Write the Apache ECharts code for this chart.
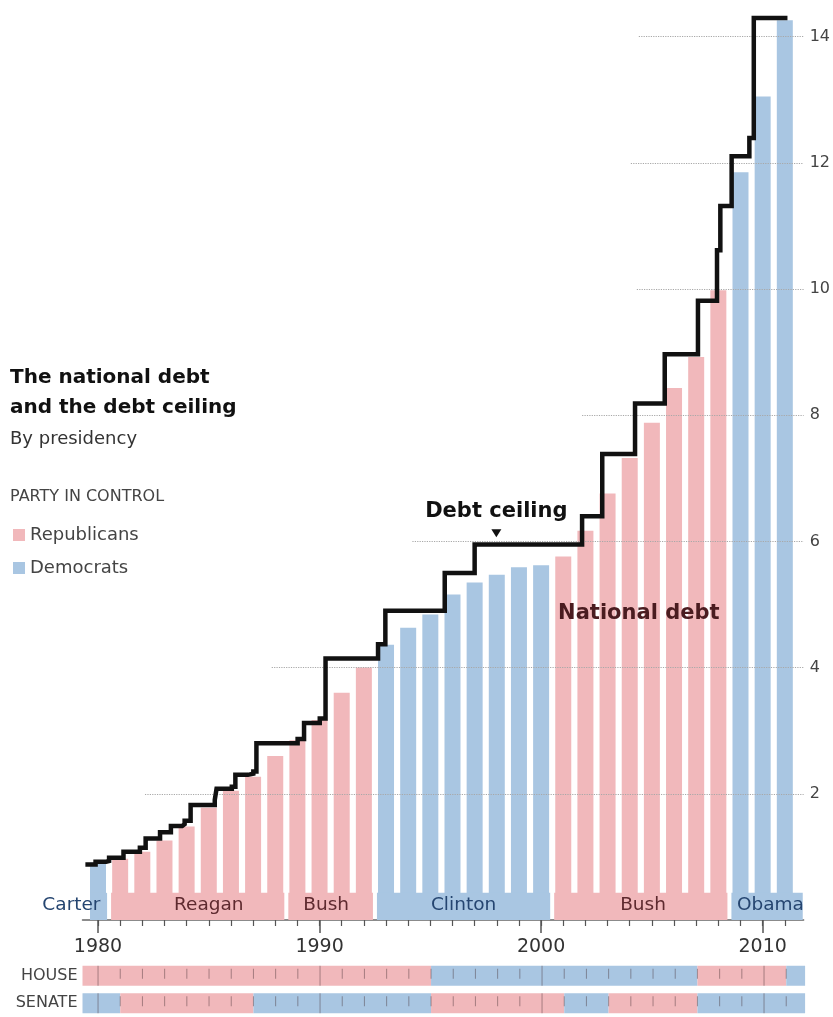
<!DOCTYPE html>
<html>
<head>
<meta charset="utf-8">
<title>The national debt and the debt ceiling</title>
<script src="https://cdn.jsdelivr.net/npm/echarts@6/dist/echarts.min.js"></script>
<style>
  html, body { margin: 0; padding: 0; background: #fff; }
  #chart { width: 833px; height: 1017px; }
</style>
</head>
<body>
<div id="chart"></div>
<script>
// ---- Data ----------------------------------------------------------------
// National debt by year, trillions of dollars
const years = [1980, 1981, 1982, 1983, 1984, 1985, 1986, 1987, 1988, 1989,
               1990, 1991, 1992, 1993, 1994, 1995, 1996, 1997, 1998, 1999,
               2000, 2001, 2002, 2003, 2004, 2005, 2006, 2007, 2008, 2009,
               2010, 2011];
const debt = [0.91, 0.97, 1.08, 1.26, 1.48, 1.78, 2.05, 2.27, 2.60, 2.85,
              3.17, 3.60, 4.00, 4.36, 4.63, 4.84, 5.16, 5.35, 5.47, 5.59,
              5.62, 5.76, 6.17, 6.76, 7.32, 7.88, 8.43, 8.92, 9.98, 11.85,
              13.05, 14.26];

// Debt ceiling: each entry is where a new limit takes effect (axis years) and the limit
const ceilingX = [1979.43, 1979.89, 1980.37, 1980.50, 1981.15, 1981.89, 1982.15, 1982.80,
                  1983.29, 1983.80, 1983.91, 1984.18, 1985.27, 1985.35, 1986.04, 1986.20,
                  1986.77, 1987.01, 1987.15, 1989.01, 1989.30, 1990.01, 1990.27, 1992.64,
                  1992.97, 1995.65, 1997.00, 2001.85, 2002.76, 2004.24, 2005.58, 2007.08,
                  2007.94, 2008.09, 2008.60, 2009.40, 2009.60, 2011.12];
const ceilingValue = [0.879, 0.925, 0.935, 0.985, 1.080, 1.143, 1.290, 1.389,
                      1.490, 1.520, 1.573, 1.823, 1.904, 2.079, 2.111, 2.300,
                      2.320, 2.352, 2.800, 2.870, 3.123, 3.195, 4.145, 4.370,
                      4.900, 5.500, 5.950, 6.400, 7.384, 8.184, 8.965, 9.815,
                      10.615, 11.315, 12.104, 12.394, 14.294, 14.294];

// Presidencies
const presidents = ['Carter', 'Reagan', 'Bush', 'Clinton', 'Bush', 'Obama'];
const presidentParty = ['D', 'R', 'R', 'D', 'R', 'D'];
const termStart = [1979.55, 1980.5, 1988.5, 1992.5, 2000.5, 2008.5];
const termEnd = [1980.5, 1988.5, 1992.5, 2000.5, 2008.5, 2011.9];
const nameX = [1978.8, 1985.0, 1990.3, 1996.5, 2004.6, 2010.35];

// Congress control
const chambers = ['HOUSE', 'SENATE'];
const houseFrom = [1979.3, 1995, 2007, 2011];
const houseTo = [1995, 2007, 2011, 2011.85];
const houseParty = ['R', 'D', 'R', 'D'];
const senateFrom = [1979.3, 1981, 1987, 1995, 2001, 2003, 2007];
const senateTo = [1981, 1987, 1995, 2001, 2003, 2007, 2011.85];
const senateParty = ['D', 'R', 'D', 'R', 'D', 'R', 'D'];

// Axis ticks and reference lines
const decadeTicks = [1980, 1990, 2000, 2010];
const gridValues = [2, 4, 6, 8, 10, 12, 14];
const gridFrom = [1982.12, 1987.84, 1994.19, 2001.85, 2004.32, 2004.05, 2004.41];

// ---- Styling ---------------------------------------------------------------
const FILL = { R: '#f1b8bb', D: '#a9c6e2' };
const INK = { R: '#5e2a2f', D: '#254570' };
const FONT = '"DejaVu Sans", "Open Sans", sans-serif';
const X_MIN = 1979.3, X_MAX = 2011.85;
const BAND_TOP = 0.43;

function partyOfYear(y) {
  for (let i = 0; i < presidents.length; i++) {
    if (y > termStart[i] && y < termEnd[i]) return presidentParty[i];
  }
  return 'D';
}

const repData = [], demData = [];
years.forEach((y, i) => {
  (partyOfYear(y) === 'R' ? repData : demData).push([y, debt[i]]);
});

const bandData = presidents.map((n, i) => [termStart[i], termEnd[i], i]);

const stripData = [];
houseFrom.forEach((s, i) => stripData.push([s, houseTo[i], 0, houseParty[i] === 'R' ? 0 : 1]));
senateFrom.forEach((s, i) => stripData.push([s, senateTo[i], 1, senateParty[i] === 'R' ? 0 : 1]));

const stripTickData = [];
years.forEach(y => { stripTickData.push([y, 0]); stripTickData.push([y, 1]); });

const chart = echarts.init(document.getElementById('chart'), null, { renderer: 'canvas' });

const option = {
  backgroundColor: '#fff',
  animation: false,
  textStyle: { fontFamily: FONT },
  grid: [
    { left: 82.5, width: 722.6, top: 5, height: 915, containLabel: false },
    { left: 82.5, width: 722.6, top: 962, height: 60, containLabel: false }
  ],
  xAxis: [
    {
      type: 'value', gridIndex: 0, min: X_MIN, max: X_MAX,
      axisLine: { show: true, lineStyle: { color: '#666', width: 1.5 } },
      axisTick: { show: true, customValues: years, length: 6, lineStyle: { color: '#555', width: 1.2 } },
      axisLabel: {
        show: true, customValues: decadeTicks, margin: 18,
        formatter: v => String(v), color: '#333', fontSize: 19, fontFamily: FONT
      },
      splitLine: { show: false }
    },
    {
      type: 'value', gridIndex: 0, min: X_MIN, max: X_MAX, position: 'bottom',
      axisLine: { show: false },
      axisTick: { show: true, customValues: decadeTicks, length: 13, lineStyle: { color: '#555', width: 1.5 } },
      axisLabel: { show: false },
      splitLine: { show: false }
    },
    {
      type: 'value', gridIndex: 1, min: X_MIN, max: X_MAX, show: false
    }
  ],
  yAxis: [
    {
      type: 'value', gridIndex: 0, position: 'right', min: 0, max: 14.5, interval: 2,
      axisLine: { show: false }, axisTick: { show: false }, splitLine: { show: false },
      axisLabel: {
        margin: 6, color: '#444', fontSize: 16, fontFamily: FONT,
        formatter: v => (v > 0 && v % 2 === 0 ? String(v) : '')
      }
    },
    {
      type: 'category', gridIndex: 1, data: chambers, inverse: true,
      axisLine: { show: false }, axisTick: { show: false }, splitLine: { show: false },
      axisLabel: { margin: 5, color: '#444', fontSize: 16, fontFamily: FONT }
    }
  ],
  legend: {
    data: ['Republicans', 'Democrats'],
    orient: 'vertical', left: 8, top: 521,
    icon: 'rect', itemWidth: 12, itemHeight: 12, itemGap: 15,
    textStyle: { color: '#444', fontSize: 18, fontFamily: FONT },
    selectedMode: false
  },
  graphic: [
    {
      type: 'text', left: 10, top: 363,
      style: { text: 'The national debt\nand the debt ceiling', font: 'bold 20px ' + FONT, lineHeight: 30, fill: '#111' }
    },
    {
      type: 'text', left: 10, top: 427,
      style: { text: 'By presidency', font: '18px ' + FONT, lineHeight: 24, fill: '#333' }
    },
    {
      type: 'text', left: 10, top: 487,
      style: { text: 'PARTY IN CONTROL', font: '16px ' + FONT, lineHeight: 20, fill: '#444' }
    }
  ],
  series: [
    {
      // dotted reference lines
      name: 'gridlines', type: 'line', xAxisIndex: 0, yAxisIndex: 0, data: [], z: 1, silent: true,
      markLine: {
        silent: true, symbol: ['none', 'none'], label: { show: false },
        lineStyle: { type: 'dotted', color: '#a8a8a8', width: 1.2 },
        data: gridValues.map((v, i) => [{ coord: [gridFrom[i], v] }, { coord: [X_MAX, v] }])
      }
    },
    {
      name: 'Republicans', type: 'bar', xAxisIndex: 0, yAxisIndex: 0,
      data: repData, barWidth: 16, barGap: '-100%', z: 2,
      itemStyle: { color: FILL.R }
    },
    {
      name: 'Democrats', type: 'bar', xAxisIndex: 0, yAxisIndex: 0,
      data: demData, barWidth: 16, barGap: '-100%', z: 2,
      itemStyle: { color: FILL.D }
    },
    {
      // presidency bands with names along the base of the bars
      name: 'presidency', type: 'custom', xAxisIndex: 0, yAxisIndex: 0,
      data: bandData, clip: false, z: 3, silent: true,
      renderItem: (params, api) => {
        const i = api.value(2);
        const p0 = api.coord([api.value(0), 0]);
        const p1 = api.coord([api.value(1), BAND_TOP]);
        const x0 = p0[0] + 2, x1 = p1[0] - 2;
        const party = presidentParty[i];
        const tp = api.coord([nameX[i], BAND_TOP / 2]);
        return {
          type: 'group',
          children: [
            { type: 'rect', shape: { x: x0, y: p1[1], width: x1 - x0, height: p0[1] - p1[1] }, style: { fill: FILL[party] } },
            {
              type: 'text', x: tp[0], y: tp[1] - 1,
              style: { text: presidents[i], font: '18.5px ' + FONT, fill: INK[party], align: 'center', verticalAlign: 'middle' }
            }
          ]
        };
      }
    },
    {
      name: 'Debt ceiling', type: 'line', xAxisIndex: 0, yAxisIndex: 0,
      data: ceilingX.map((x, i) => [x, ceilingValue[i]]),
      step: 'end', symbol: 'none', z: 5, silent: true,
      lineStyle: { color: '#111', width: 4.5, join: 'miter', cap: 'butt' },
      markPoint: {
        silent: true,
        data: [
          { coord: [1997.98, 6.13], symbol: 'triangle', symbolRotate: 180, symbolSize: [10, 8], itemStyle: { color: '#111' }, label: { show: false } },
          {
            coord: [1997.98, 6.47], symbol: 'rect', symbolSize: 0, itemStyle: { color: 'transparent' },
            label: { show: true, position: 'inside', formatter: 'Debt ceiling', color: '#111', fontSize: 21, fontWeight: 'bold', fontFamily: FONT }
          },
          {
            coord: [2004.41, 4.85], symbol: 'rect', symbolSize: 0, itemStyle: { color: 'transparent' },
            label: { show: true, position: 'inside', formatter: 'National debt', color: '#4a1c20', fontSize: 21, fontWeight: 'bold', fontFamily: FONT }
          }
        ]
      }
    },
    {
      // House / Senate control strips
      name: 'congress', type: 'custom', xAxisIndex: 2, yAxisIndex: 1,
      data: stripData, clip: false, z: 2, silent: true,
      renderItem: (params, api) => {
        const a = api.coord([api.value(0), api.value(2)]);
        const b = api.coord([api.value(1), api.value(2)]);
        const h = 20;
        return {
          type: 'rect', shape: { x: a[0], y: a[1] - h / 2, width: b[0] - a[0], height: h },
          style: { fill: api.value(3) === 0 ? FILL.R : FILL.D }
        };
      }
    },
    {
      name: 'congressTicks', type: 'custom', xAxisIndex: 2, yAxisIndex: 1,
      data: stripTickData, clip: false, z: 3, silent: true,
      renderItem: (params, api) => {
        const y = api.value(0);
        const c = api.coord([y, api.value(1)]);
        const decade = decadeTicks.indexOf(y) >= 0;
        return {
          type: 'line',
          shape: { x1: c[0], y1: c[1] - (decade ? 10 : 7), x2: c[0], y2: c[1] + (decade ? 10 : 3) },
          style: { stroke: 'rgba(70,50,55,0.45)', lineWidth: 1 }
        };
      }
    }
  ]
};

chart.setOption(option);
</script>
</body>
</html>
